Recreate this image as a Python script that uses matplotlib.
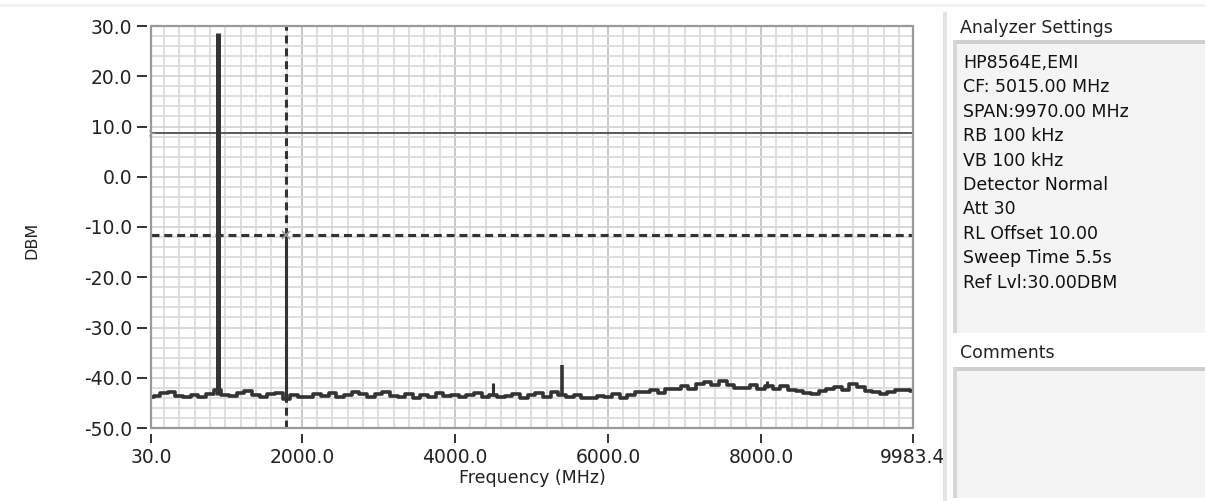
import matplotlib
matplotlib.use("Agg")
import matplotlib.pyplot as plt
from matplotlib.patches import Rectangle
from matplotlib.ticker import FixedLocator, MultipleLocator

plt.rcParams["font.family"] = ["DejaVu Sans"]

# ---------------- data ----------------
x_min, x_max = 30.0, 9983.4
y_min, y_max = -50.0, 30.0
x_ticks = [30.0, 2000.0, 4000.0, 6000.0, 8000.0, 9983.4]
x_tick_labels = ["30.0", "2000.0", "4000.0", "6000.0", "8000.0", "9983.4"]
y_ticks = [30, 20, 10, 0, -10, -20, -30, -40, -50]
y_tick_labels = ["30.0", "20.0", "10.0", "0.0", "-10.0", "-20.0", "-30.0", "-40.0", "-50.0"]

floor_freq = [30, 100, 200, 300, 400, 500, 600, 700, 800, 900,
              1000, 1100, 1200, 1300, 1400, 1500, 1600, 1700, 1800, 1900,
              2000, 2100, 2200, 2300, 2400, 2500, 2600, 2700, 2800, 2900,
              3000, 3100, 3200, 3300, 3400, 3500, 3600, 3700, 3800, 3900,
              4000, 4100, 4200, 4300, 4400, 4500, 4600, 4700, 4800, 4900,
              5000, 5100, 5200, 5300, 5400, 5500, 5600, 5700, 5800, 5900,
              6000, 6100, 6200, 6300, 6400, 6500, 6600, 6700, 6800, 6900,
              7000, 7100, 7200, 7300, 7400, 7500, 7600, 7700, 7800, 7900,
              8000, 8100, 8200, 8300, 8400, 8500, 8600, 8700, 8800, 8900,
              9000, 9100, 9200, 9300, 9400, 9500, 9600, 9700, 9800, 9900, 9983.4]
floor_dbm = [-43.8, -43.7, -43.0, -42.9, -43.6, -43.9, -43.4, -43.9, -43.2, -42.4,
             -43.4, -43.7, -43.0, -42.6, -43.4, -43.8, -43.2, -43.0, -44.2, -43.5,
             -43.8, -43.9, -43.2, -43.6, -43.1, -43.9, -43.5, -42.9, -43.3, -43.8,
             -43.3, -42.9, -43.6, -43.8, -43.2, -44.0, -43.5, -43.8, -43.1, -43.6,
             -43.4, -43.9, -43.5, -43.1, -43.8, -43.4, -43.9, -43.6, -43.3, -44.0,
             -43.5, -43.0, -43.8, -42.9, -43.4, -43.8, -43.4, -44.0, -44.1, -43.6,
             -43.9, -43.2, -44.1, -43.5, -42.9, -42.8, -42.4, -43.0, -42.2, -42.3,
             -41.6, -42.2, -41.2, -40.8, -41.5, -40.7, -41.5, -42.0, -42.1, -41.5,
             -42.3, -41.6, -42.2, -41.7, -42.5, -42.6, -43.1, -43.2, -42.7, -42.2,
             -41.8, -42.4, -41.3, -41.8, -42.7, -42.9, -43.3, -42.9, -42.5, -42.4, -42.6]

spike_freq = [900, 1790, 4500, 5400, 8080]
spike_base = [-43.5, -43.8, -43.6, -43.5, -42.0]
spike_peak = [28.6, -11.4, -41.0, -37.5, -40.6]
spike_width = [3.6, 2.2, 2.2, 2.6, 2.2]

ref_line_level = 8.7
marker_freq = 1790.0
marker_level = -11.5

settings_lines = ["HP8564E,EMI", "CF: 5015.00 MHz", "SPAN:9970.00 MHz", "RB 100 kHz",
                  "VB 100 kHz", "Detector Normal", "Att 30", "RL Offset 10.00",
                  "Sweep Time 5.5s", "Ref Lvl:30.00DBM"]

# ---------------- figure ----------------
W, H = 1205, 501
fig = plt.figure(figsize=(W / 100, H / 100), dpi=100)
fig.patch.set_facecolor("white")

def fx(px):
    return px / W

def fy(py):
    return 1 - py / H

L, R, T, B = 151, 913, 26, 428
ax = fig.add_axes([fx(L), fy(B), fx(R - L), (B - T) / H])
ax.set_xlim(x_min, x_max)
ax.set_ylim(y_min, y_max)
ax.set_facecolor("white")

# grid
ax.xaxis.set_minor_locator(MultipleLocator(200))
ax.yaxis.set_minor_locator(MultipleLocator(2))
ax.xaxis.set_major_locator(FixedLocator(x_ticks))
ax.yaxis.set_major_locator(FixedLocator(y_ticks))
ax.grid(which="minor", color="#dcdcdc", lw=1.3, zorder=0)
ax.grid(which="major", axis="x", color="#c4c4c4", lw=1.3, zorder=0)
ax.grid(which="major", axis="y", color="#d6d6d6", lw=1.3, zorder=0)
ax.set_axisbelow(True)

ax.set_xticklabels(x_tick_labels)
ax.set_yticklabels(y_tick_labels)
for s in ax.spines.values():
    s.set_visible(False)
ax.spines["left"].set_position(("outward", 3))
ax.spines["bottom"].set_position(("outward", 4))
ax.tick_params(axis="y", which="major", length=7.5, width=1.3, color="#222222",
               labelsize=13.5, pad=3, labelcolor="#222222")
ax.tick_params(axis="x", which="major", length=6.5, width=1.3, color="#222222",
               labelsize=13.5, pad=4, labelcolor="#222222")
ax.tick_params(which="minor", length=0)

# frame
ax.add_patch(Rectangle((0, 0), 1, 1, transform=ax.transAxes, fill=False,
                       edgecolor="#9a9a9a", lw=1.6, zorder=5, clip_on=False))

# reference lines / cursors
ax.axhline(ref_line_level, color="#5a5a5a", lw=1.4, zorder=3)
ax.axhline(marker_level, color="#333333", lw=2.2, ls=(0, (2.6, 1.6)), zorder=3)
ax.axvline(marker_freq, color="#333333", lw=2.2, ls=(0, (2.6, 1.6)), zorder=3)
ax.plot([marker_freq], [marker_level], marker="x", ms=6, mew=1.2, color="#9a9a9a", zorder=6)
ax.plot([x_min], [ref_line_level], marker="4", ms=6, mew=1.0, color="#9a9a9a", zorder=6,
        clip_on=False)

# trace
ax.plot(floor_freq, floor_dbm, drawstyle="steps-mid", color="#333333", lw=2.6, zorder=4)
ax.vlines(spike_freq, spike_base, spike_peak, colors="#333333", lw=spike_width, zorder=4)

ax.set_xlabel("Frequency (MHz)", fontsize=12.5, color="#222222", labelpad=1)
fig.text(fx(32), fy(240), "DBM", rotation=90, ha="center", va="center",
         fontsize=11.5, color="#222222")

# ---------------- right panel ----------------
fig.add_artist(Rectangle((0, fy(7)), 1, 2.5 / H, transform=fig.transFigure,
                         facecolor="#f2f2f2", edgecolor="none"))
fig.add_artist(Rectangle((fx(943), 0), 4 / W, fy(12), transform=fig.transFigure,
                         facecolor="#e4e4e4", edgecolor="none"))

def panel_box(top, bottom):
    x0 = fx(953)
    fig.add_artist(Rectangle((x0, fy(bottom)), 1 - x0, (bottom - top) / H,
                             transform=fig.transFigure, facecolor="#f4f4f4",
                             edgecolor="none"))
    fig.add_artist(Rectangle((x0, fy(top) - 4 / H), 1 - x0, 4 / H,
                             transform=fig.transFigure, facecolor="#cfcfcf",
                             edgecolor="none"))
    fig.add_artist(Rectangle((x0, fy(bottom)), 4 / W, (bottom - top) / H,
                             transform=fig.transFigure, facecolor="#d6d6d6",
                             edgecolor="none"))

panel_box(40, 333)
panel_box(367, 498)

fig.text(fx(960), fy(28), "Analyzer Settings", ha="left", va="center",
         fontsize=12.5, color="#222222")
fig.text(fx(960), fy(353), "Comments", ha="left", va="center",
         fontsize=12.5, color="#222222")
for i, line in enumerate(settings_lines):
    fig.text(fx(963), fy(63 + i * 24.4), line, ha="left", va="center",
             fontsize=12.5, color="#111111")

fig.savefig("out.png", dpi=100)
